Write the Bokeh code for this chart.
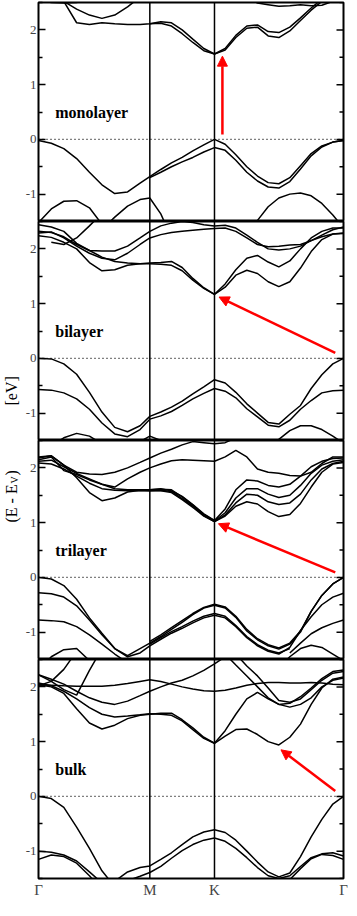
import math
from bokeh.plotting import figure
from bokeh.layouts import row, column
from bokeh.models import Range1d, FixedTicker, Span, Label, Arrow, NormalHead
from bokeh.embed import file_html
from bokeh.resources import INLINE

N = float("nan")

# k-path coordinate (fraction of the Gamma-M-K-Gamma path)
k = [0.0, 0.042, 0.083, 0.125, 0.167, 0.208, 0.25, 0.292, 0.333, 0.365,
     0.401, 0.436, 0.471, 0.506, 0.542, 0.577, 0.612, 0.647, 0.683, 0.718,
     0.753, 0.788, 0.824, 0.859, 0.894, 0.929, 0.965, 1.0]
k_ticks = [0.0, 0.365, 0.577, 1.0]
k_labels = ["Γ", "M", "K", "Γ"]
e_ticks = [-1, 0, 1, 2]
e_labels = ["-1", "0", "1", "2"]
e_minor = [-1.5, -0.5, 0.5, 1.5, 2.5]

# ---------------- monolayer ----------------
mono_vb1 = [-0.02, -0.07, -0.17, -0.35, -0.60, -0.83, -0.99, -0.96, -0.80, -0.68, -0.55, -0.43, -0.33, -0.21, -0.10, 0.0, -0.09, -0.28, -0.50, -0.67, -0.79, -0.81, -0.70, -0.48, -0.26, -0.12, -0.05, -0.02]
mono_vb2 = [N]*9 + [-0.70, -0.60, -0.50, -0.41, -0.33, -0.23, -0.15, -0.20, -0.38, -0.60, -0.76, -0.87, -0.89, -0.77, -0.54, -0.30, -0.14, -0.05, -0.02]
mono_vb3 = [-1.52, -1.27, -1.13, -1.12, -1.25, -1.55] + [N]*22
mono_vb4 = [N]*5 + [-1.65, -1.42, -1.22, -1.10, -1.07, -1.36, -1.80] + [N]*16
mono_vb5 = [N]*18 + [-1.75, -1.48, -1.23, -1.07, -1.00, -0.98, -1.03, -1.17, -1.38, -1.62]
mono_cb1 = [2.9, 2.75, 2.52, 2.13, 2.10, 2.13, 2.11, 2.10, 2.10, 2.11, 2.15, 2.13, 2.00, 1.83, 1.66, 1.56, 1.66, 1.90, 2.07, 2.09, 1.97, 1.95, 2.05, 2.22, 2.40, 2.56, 2.75, 2.85]
mono_cb2 = [N]*9 + [2.11, 2.12, 2.07, 1.93, 1.77, 1.62, 1.56, 1.63, 1.86, 2.03, 2.05, 1.89, 1.86, 1.98, 2.17, 2.36, 2.52, 2.70, 2.85]
mono_cb3 = [N, N, 2.52, 2.38, 2.27, 2.21, 2.27, 2.42, 2.60] + [N]*19
mono_cb4 = [2.55, 2.50, 2.49, 2.50, 2.56] + [N]*23
mono_cb5 = [N]*18 + [2.60, 2.49, 2.46, 2.43, 2.44, 2.46, 2.44, 2.45, 2.52, 2.60]

# ---------------- bilayer ----------------
bi_vb1 = [0.0, -0.01, -0.10, -0.29, -0.62, -0.98, -1.26, -1.34, -1.23, -1.06, -0.98, -0.89, -0.78, -0.65, -0.52, -0.39, -0.45, -0.62, -0.83, -1.00, -1.17, -1.20, -1.02, -0.86, -0.55, -0.30, -0.10, 0.0]
bi_vb2 = [-0.57, -0.58, -0.63, -0.74, -0.93, -1.18, -1.38, -1.43, -1.30, -1.11, -1.05, -0.97, -0.86, -0.74, -0.64, -0.55, -0.60, -0.72, -0.92, -1.07, -1.22, -1.25, -1.13, -0.93, -0.77, -0.63, -0.59, -0.58]
bi_vb3 = [N, -1.60, -1.45, -1.37, -1.42, -1.56, -1.70] + [N]*21
bi_vb4 = [N]*8 + [-1.52, -1.42, -1.50] + [N]*17
bi_vb5 = [N]*20 + [-1.65, -1.48, -1.32, -1.23, -1.23, -1.30, -1.42, -1.55]
bi_cb1 = [2.24, 2.21, 2.12, 2.00, 1.75, 1.60, 1.62, 1.70, 1.73, 1.73, 1.72, 1.70, 1.60, 1.43, 1.28, 1.17, 1.30, 1.52, 1.61, 1.55, 1.40, 1.31, 1.40, 1.65, 1.95, 2.17, 2.27, 2.28]
bi_cb2 = [2.32, 2.30, 2.22, 2.08, 1.97, 1.85, 1.77, 1.74, 1.73, 1.74, 1.75, 1.77, 1.66, 1.46, 1.29, 1.17, 1.36, 1.62, 1.83, 1.88, 1.76, 1.67, 1.78, 2.00, 2.20, 2.32, 2.38, 2.38]
bi_cb3 = [2.29, 2.31, 2.20, 2.05, 1.92, 1.83, 1.80, 1.92, 2.08, 2.20, 2.26, 2.30, 2.32, 2.34, 2.36, 2.37, 2.38, 2.32, 2.20, 2.08, 2.04, 2.05, 2.07, 2.08, 2.15, 2.22, 2.27, 2.29]
bi_cb4 = [2.44, 2.40, 2.32, 2.10, 1.97, 1.96, 1.96, 2.05, 2.20, 2.32, 2.42, 2.47, 2.50, 2.48, 2.44, 2.42, 2.43, 2.38, 2.25, 2.12, 2.00, 1.98, 2.00, 2.05, 2.15, 2.25, 2.35, 2.40]
bi_cb5 = [N, 2.12, 2.08, 2.20, 2.42, 2.65] + [N]*22

# ---------------- trilayer ----------------
tri_vb1 = [0.0, -0.03, -0.15, -0.40, -0.74, -1.02, -1.30, -1.43, -1.30, -1.20, -1.08, -0.95, -0.82, -0.68, -0.56, -0.51, -0.56, -0.73, -0.98, -1.14, -1.25, -1.31, -1.22, -1.00, -0.62, -0.33, -0.12, 0.0]
tri_vb2 = [N]*9 + [-1.17, -1.05, -0.92, -0.79, -0.66, -0.55, -0.49, -0.54, -0.71, -0.95, -1.12, -1.23, -1.29, -1.20, -0.98, -0.62, -0.33, -0.12, 0.0]
tri_vb3 = [-0.28, -0.30, -0.36, -0.52, -0.78, -1.05, -1.30, -1.45, -1.38, -1.25, -1.13, -1.02, -0.93, -0.83, -0.74, -0.69, -0.74, -0.90, -1.10, -1.25, -1.35, -1.40, -1.28, -0.97, -0.72, -0.50, -0.36, -0.29]
tri_vb4 = [N]*9 + [-1.22, -1.10, -0.99, -0.90, -0.80, -0.71, -0.66, -0.71, -0.88, -1.08, -1.23, -1.33, -1.38, -1.30] + [N]*5
tri_vb5 = [-0.78, -0.79, -0.81, -0.90, -1.05, -1.22, -1.40, -1.56, -1.70] + [N]*19
tri_vb6 = [N]*22 + [-1.38, -1.20, -1.03, -0.92, -0.84, -0.78]
tri_vb7 = [-1.70, -1.45, -1.32, -1.30, -1.52, -1.75] + [N]*22
tri_vb8 = [N]*21 + [-1.65, -1.45, -1.30, -1.24, -1.28, -1.40, -1.52]
tri_cb1 = [2.18, 2.22, 2.05, 1.82, 1.55, 1.40, 1.45, 1.56, 1.59, 1.58, 1.58, 1.55, 1.42, 1.28, 1.12, 1.02, 1.12, 1.30, 1.38, 1.34, 1.20, 1.11, 1.15, 1.35, 1.65, 1.92, 2.07, 2.10]
tri_cb2 = [2.09, 2.07, 1.98, 1.85, 1.72, 1.62, 1.59, 1.58, 1.58, 1.58, 1.59, 1.57, 1.44, 1.30, 1.13, 1.02, 1.14, 1.36, 1.52, 1.50, 1.38, 1.33, 1.36, 1.52, 1.78, 1.98, 2.08, 2.12]
tri_cb3 = [2.12, 2.14, 2.02, 1.90, 1.80, 1.70, 1.62, 1.60, 1.60, 1.60, 1.61, 1.60, 1.47, 1.32, 1.15, 1.03, 1.18, 1.45, 1.62, 1.62, 1.52, 1.46, 1.50, 1.68, 1.90, 2.05, 2.12, 2.15]
tri_cb4 = [2.15, 2.20, 1.95, 1.88, 1.78, 1.70, 1.65, 1.80, 1.92, 2.00, 2.07, 2.13, 2.15, 2.14, 2.13, 2.12, 2.20, 2.32, 2.20, 1.98, 1.92, 1.90, 1.86, 1.85, 1.92, 2.08, 2.20, 2.20]
tri_cb5 = [2.20, 2.22, 2.05, 1.92, 1.89, 1.88, 1.92, 2.00, 2.10, 2.18, 2.27, 2.34, 2.42, 2.48, 2.46, 2.44, 2.46, 2.55, 2.70] + [N]*9
tri_cb6 = [N]*9 + [1.60, 1.62, 1.58, 1.48, 1.33, 1.16, 1.04, 1.25, 1.60, 1.78, 1.76, 1.68, 1.65, 1.70, 1.85, 2.02, 2.12, 2.17, 2.18]

# ---------------- bulk ----------------
bulk_vb1 = [0.0, -0.04, -0.20, -0.56, -0.95, -1.36, -1.65] + [N]*21
bulk_vb2 = [N]*6 + [-1.55, -1.38, -1.30, -1.27, -1.15, -1.03, -0.88, -0.74, -0.65, -0.61, -0.66, -0.80, -1.00, -1.20, -1.38, -1.47, -1.40, -1.10, -0.74, -0.42, -0.14, 0.0]
bulk_vb3 = [N]*7 + [-1.54, -1.46, -1.39, -1.28, -1.13, -0.99, -0.88, -0.80, -0.76, -0.82, -0.95, -1.12, -1.30, -1.45, -1.50, -1.45, -1.28, -1.12, -1.05, -1.03, -1.09]
bulk_vb4 = [N]*22 + [-1.52, -1.32, -1.14, -1.06, -1.08, -1.15]
bulk_vb5 = [-1.00, -1.02, -1.07, -1.18, -1.38, -1.58] + [N]*22
bulk_vb6 = [-1.15, -1.07, -1.10, -1.22, -1.45, -1.70] + [N]*22
bulk_cb1 = [2.04, 2.00, 1.88, 1.60, 1.34, 1.23, 1.30, 1.42, 1.48, 1.50, 1.52, 1.52, 1.40, 1.25, 1.08, 0.97, 1.10, 1.22, 1.23, 1.13, 1.00, 0.94, 1.08, 1.32, 1.68, 1.98, 2.14, 2.18]
bulk_cb2 = [2.07, 2.02, 1.92, 1.78, 1.62, 1.50, 1.45, 1.47, 1.49, 1.51, 1.50, 1.48, 1.38, 1.22, 1.06, 0.97, 1.20, 1.50, 1.78, 1.90, 1.78, 1.68, 1.63, 1.68, 1.80, 2.00, 2.12, 2.16]
bulk_cb3 = [2.22, 2.14, 2.05, 1.92, 1.80, 1.72, 1.68, 1.74, 1.84, 1.92, 2.00, 2.07, 2.12, 2.20, 2.30, 2.42, 2.55] + [N]*11
bulk_cb4 = [2.04, 2.03, 2.02, 2.01, 2.01, 2.01, 2.03, 2.06, 2.10, 2.13, 2.10, 2.05, 2.00, 1.96, 1.93, 1.92, 1.94, 1.98, 2.03, 2.06, 2.08, 2.08, 2.07, 2.07, 2.08, 2.07, 2.05, 2.04]
bulk_cb5 = [2.02, 2.10, 2.32, 2.65] + [N]*24
bulk_cb6 = [2.22, 2.10, 1.95, 1.85, 2.30, 2.70] + [N]*22
bulk_cb7 = [N]*16 + [2.60, 2.40, 2.20, 2.00, 1.80, 1.68, 1.70, 1.82, 1.98, 2.15, 2.28, 2.31]
bulk_cb8 = [N]*17 + [2.60, 2.38, 2.20, 1.98, 1.75, 1.72, 1.78, 1.95, 2.12, 2.25, 2.28]

panel_names = ["monolayer", "bilayer", "trilayer", "bulk"]
panel_bands = [
    [mono_vb1, mono_vb2, mono_vb3, mono_vb4, mono_vb5, mono_cb1, mono_cb2, mono_cb3, mono_cb4, mono_cb5],
    [bi_vb1, bi_vb2, bi_vb3, bi_vb4, bi_vb5, bi_cb1, bi_cb2, bi_cb3, bi_cb4, bi_cb5],
    [tri_vb1, tri_vb2, tri_vb3, tri_vb4, tri_vb5, tri_vb6, tri_vb7, tri_vb8, tri_cb1, tri_cb2, tri_cb3, tri_cb4, tri_cb5, tri_cb6],
    [bulk_vb1, bulk_vb2, bulk_vb3, bulk_vb4, bulk_vb5, bulk_vb6, bulk_cb1, bulk_cb2, bulk_cb3, bulk_cb4, bulk_cb5, bulk_cb6, bulk_cb7, bulk_cb8],
]
# red arrows (k, E) tail -> head, one per panel
arrow_tail = [(0.603, 0.09), (0.973, 0.10), (0.973, 0.09), (0.973, 0.10)]
arrow_head = [(0.603, 1.52), (0.592, 1.12), (0.590, 0.98), (0.795, 0.85)]

SERIF = "Liberation Serif"
FRAME_H = 219
LEFT = 13
RIGHT = 5
FIG_W = 326
LAB_W = 22

figs = []
for i, name in enumerate(panel_names):
    top = 2 if i == 0 else 0
    bottom = 22 if i == 3 else 0
    p = figure(width=FIG_W, height=FRAME_H + top + bottom,
               x_range=Range1d(0, 1), y_range=Range1d(-1.5, 2.5),
               output_backend="svg", toolbar_location=None,
               x_axis_location="below" if i == 3 else None,
               min_border_left=LEFT, min_border_right=RIGHT,
               min_border_top=top, min_border_bottom=bottom)
    p.grid.visible = False
    p.outline_line_color = "black"
    p.outline_line_width = 2
    p.outline_line_alpha = 1.0
    p.background_fill_color = "white"
    p.border_fill_color = "white"

    ya = p.yaxis[0]
    ya.ticker = FixedTicker(ticks=e_ticks, minor_ticks=e_minor)
    ya.major_label_overrides = {t: l for t, l in zip(e_ticks, e_labels)}
    ya.axis_line_color = None
    ya.major_tick_in = 7
    ya.major_tick_out = 0
    ya.minor_tick_in = 4
    ya.minor_tick_out = 0
    ya.major_tick_line_width = 1.5
    ya.minor_tick_line_width = 1.5
    ya.major_label_text_font = SERIF
    ya.major_label_text_font_size = "13px"
    ya.major_label_standoff = 2

    # inward ticks on the right edge of the frame
    p.ray(x=[1.0] * len(e_ticks), y=e_ticks, length=7, angle=math.pi,
          length_units="screen", line_color="black", line_width=1.5)
    p.ray(x=[1.0] * len(e_minor), y=e_minor, length=4, angle=math.pi,
          length_units="screen", line_color="black", line_width=1.5)

    if i == 3:
        xa = p.xaxis[0]
        xa.ticker = FixedTicker(ticks=k_ticks, minor_ticks=[])
        xa.major_label_overrides = {t: l for t, l in zip(k_ticks, k_labels)}
        xa.axis_line_color = None
        xa.major_tick_in = 0
        xa.major_tick_out = 0
        xa.major_label_text_font = SERIF
        xa.major_label_text_font_size = "15px"
        xa.major_label_standoff = 3

    for loc in k_ticks[1:3]:
        p.add_layout(Span(location=loc, dimension="height", line_color="black", line_width=1.5))
    p.add_layout(Span(location=0, dimension="width", line_color="black",
                      line_width=1.2, line_dash="1 3"))

    for band in panel_bands[i]:
        p.line(k, band, line_color="black", line_width=1.5)

    p.add_layout(Label(x=0.055, y=0.5, text=name, text_font=SERIF,
                       text_font_style="bold", text_font_size="16px",
                       text_baseline="middle", text_color="black"))
    (xs, ys), (xe, ye) = arrow_tail[i], arrow_head[i]
    p.add_layout(Arrow(end=NormalHead(size=10, fill_color="red", line_color="red", line_width=1),
                       x_start=xs, y_start=ys, x_end=xe, y_end=ye,
                       line_color="red", line_width=2.5))
    figs.append(p)

total_h = sum(f.height for f in figs)
lab = figure(width=LAB_W, height=total_h, x_range=Range1d(0, 1), y_range=Range1d(0, 1),
             output_backend="svg", toolbar_location=None, min_border=0,
             x_axis_location=None, y_axis_location=None, outline_line_color=None)
lab.grid.visible = False
ang = math.pi / 2
# (text, font px, centre x from left, start y from bottom of canvas)
yl_parts = [("(E - E", 16, 10.5, 378), ("V", 10, 14.0, 417), (")", 16, 10.5, 425), ("[eV]", 16, 10.5, 495)]
for txt, fs, xc, yb in yl_parts:
    lab.add_layout(Label(x=xc, y=yb, x_units="screen", y_units="screen", text=txt,
                         angle=ang, text_font=SERIF, text_font_size=f"{fs}px",
                         text_align="left", text_baseline="middle", text_color="black"))

layout = row(lab, column(*figs))
open("out.html", "w").write(file_html(layout, INLINE))
